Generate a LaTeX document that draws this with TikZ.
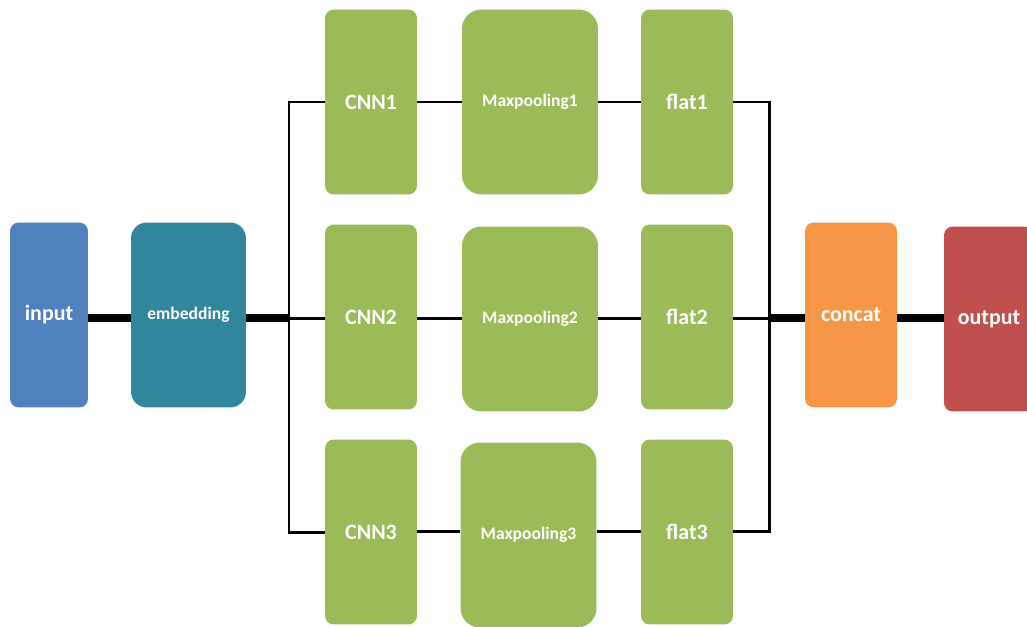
\documentclass[tikz,border=0pt]{standalone}
\usepackage{fontspec}
\setmainfont{Carlito}
\definecolor{inblue}{HTML}{4F81BD}
\definecolor{embteal}{HTML}{31859C}
\definecolor{layergreen}{HTML}{9BBB59}
\definecolor{catorange}{HTML}{F79646}
\definecolor{outred}{HTML}{C0504D}
\begin{document}
\begin{tikzpicture}[x=0.02cm,y=-0.02cm,
    blk/.style={rounded corners=5pt,text=white,font=\bfseries\fontsize{12.5}{15}\selectfont,
        minimum width=1.84cm,minimum height=3.7cm,inner sep=0pt},
    wideblk/.style={blk,rounded corners=11pt,minimum width=2.72cm,font=\bfseries\fontsize{10}{12}\selectfont},
    thinline/.style={line width=1.7pt},
    thickline/.style={line width=4pt}]
        \useasboundingbox (0,0) rectangle (1027,626);
        \clip (0,0) rectangle (1027,626);
        \node[blk,fill=inblue,minimum width=1.56cm] (input) at (49,315) {input};
        \node[blk,fill=embteal,minimum width=2.3cm,rounded corners=9pt,font=\bfseries\fontsize{10}{12}\selectfont] (embedding) at (188.5,315) {embedding};
        % three parallel branches
        \node[blk,fill=layergreen] (cnn1) at (371,102) {CNN1};
        \node[blk,fill=layergreen] (cnn2) at (371,317) {CNN2};
        \node[blk,fill=layergreen] (cnn3) at (371,532) {CNN3};
        \node[wideblk,fill=layergreen] (pool1) at (530,102) {Maxpooling1};
        \node[wideblk,fill=layergreen] (pool2) at (530,319) {Maxpooling2};
        \node[wideblk,fill=layergreen] (pool3) at (528.5,535) {Maxpooling3};
        \node[blk,fill=layergreen] (flat1) at (687,102) {flat1};
        \node[blk,fill=layergreen] (flat2) at (687,317) {flat2};
        \node[blk,fill=layergreen] (flat3) at (687,532) {flat3};
        \node[blk,fill=catorange] (concat) at (851,315) {concat};
        \node[blk,fill=outred,minimum width=1.8cm] (output) at (989,319) {output};
        \coordinate (split) at (289,318);
        \coordinate (merge) at (769,318);
        % connectors
        \draw[thickline] (input.east |- 0,318) -- (embedding.west |- 0,318);
        \draw[thickline] (embedding.east |- split) -- (split);
        \draw[thinline] (split) -- (split |- cnn1.west) -- (cnn1.west);
        \draw[thinline] (split) -- (split |- cnn3.west) -- (cnn3.west);
        \draw[thinline] (split) -- (cnn2.west |- split);
        \draw[thinline] (cnn1) -- (pool1);
        \draw[thinline] (cnn2.east |- 0,318) -- (pool2.west |- 0,318);
        \draw[thinline] (cnn3.east |- 0,531) -- (pool3.west |- 0,531);
        \draw[thinline] (pool1) -- (flat1);
        \draw[thinline] (pool2.east |- 0,318) -- (flat2.west |- 0,318);
        \draw[thinline] (pool3.east |- 0,531) -- (flat3.west |- 0,531);
        \draw[thinline] (flat1.east) -- (merge |- flat1.east) -- (merge);
        \draw[thinline] (flat3.east |- 0,531) -- (merge |- 0,531) -- (merge);
        \draw[thinline] (flat2.east |- merge) -- (merge);
        \draw[thickline] (merge) -- (concat.west |- merge);
        \draw[thickline] (concat.east |- merge) -- (output.west |- merge);
\end{tikzpicture}
\end{document}
